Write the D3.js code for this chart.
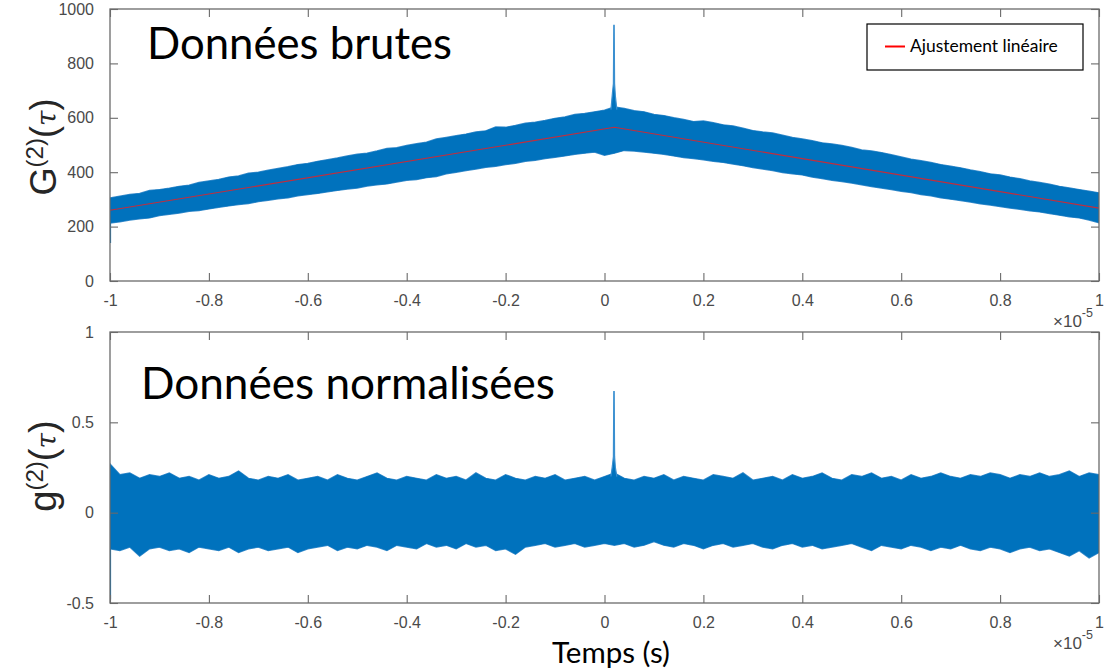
<!DOCTYPE html>
<html><head><meta charset="utf-8">
<script src="https://cdn.jsdelivr.net/npm/d3@7"></script>
<style>body{margin:0;background:#fff}</style>
</head><body>
<svg id="c" width="1107" height="670"></svg>
<script>
// ---- DATA (time in units of 1e-5 s) ----
const timeGrid = [-1,-0.98,-0.96,-0.94,-0.92,-0.9,-0.88,-0.86,-0.84,-0.82,-0.8,-0.78,-0.76,-0.74,-0.72,-0.7,-0.68,-0.66,-0.64,-0.62,-0.6,-0.58,-0.56,-0.54,-0.52,-0.5,-0.48,-0.46,-0.44,-0.42,-0.4,-0.38,-0.36,-0.34,-0.32,-0.3,-0.28,-0.26,-0.24,-0.22,-0.2,-0.18,-0.16,-0.14,-0.12,-0.1,-0.08,-0.06,-0.04,-0.02,0,0.02,0.04,0.06,0.08,0.1,0.12,0.14,0.16,0.18,0.2,0.22,0.24,0.26,0.28,0.3,0.32,0.34,0.36,0.38,0.4,0.42,0.44,0.46,0.48,0.5,0.52,0.54,0.56,0.58,0.6,0.62,0.64,0.66,0.68,0.7,0.72,0.74,0.76,0.78,0.8,0.82,0.84,0.86,0.88,0.9,0.92,0.94,0.96,0.98,1];

// Raw data G2 : upper / lower envelope of the noisy band
const rawUpper = [305,312,318,322,333,336,341,348,352,362,
  368,373,382,386,396,400,407,414,420,428,
  432,440,446,452,460,466,470,478,487,490,
  498,505,510,522,528,534,540,548,552,566,
  565,572,580,584,590,598,603,612,616,622,
  628,640,
  634,626,622,612,608,600,594,586,
  588,582,574,570,562,553,548,544,536,528,
  522,516,508,504,498,491,482,478,472,464,
  456,448,442,436,428,422,416,408,402,394,
  390,382,376,368,362,356,348,342,336,330,324];
const rawLower = [213,218,224,229,232,241,245,250,256,259,
  265,271,276,281,285,292,297,302,306,313,
  318,322,328,333,338,342,349,354,357,364,
  370,373,380,384,394,400,406,412,418,422,
  428,433,440,444,450,455,460,466,470,474,
  462,470,
  480,478,474,470,466,460,454,450,
  446,440,436,430,424,417,412,406,399,394,
  390,382,377,370,366,360,354,347,342,336,
  330,325,318,313,306,301,296,290,284,279,
  274,268,264,258,254,248,242,236,232,224,214];
const fitTime = [-1, 0.02, 1];
const fitValue = [260, 565, 268];
const rawSpikeTime = [0.013,0.016,0.018,0.0188,0.0196,0.0204,0.022,0.025];
const rawSpikeValue = [630,690,726,940,940,726,680,630];
const rawStartTime = [-1,-1];
const rawStartValue = [140,260];

// Normalised data g2
const normUpper = [0.27,0.21,0.22,0.19,0.21,0.2,0.22,0.19,0.2,0.18,
  0.21,0.19,0.2,0.23,0.19,0.18,0.2,0.19,0.21,0.18,
  0.19,0.2,0.18,0.21,0.19,0.18,0.2,0.22,0.19,0.18,
  0.2,0.19,0.18,0.21,0.19,0.2,0.18,0.22,0.19,0.18,
  0.21,0.19,0.18,0.2,0.19,0.21,0.18,0.19,0.2,0.18,
  0.2,
  0.22,0.19,0.18,0.2,0.19,0.21,0.18,0.2,0.19,0.18,
  0.21,0.2,0.19,0.22,0.18,0.19,0.2,0.18,0.21,0.19,
  0.2,0.22,0.19,0.18,0.21,0.2,0.22,0.19,0.2,0.18,
  0.21,0.19,0.2,0.22,0.2,0.19,0.21,0.2,0.22,0.21,
  0.19,0.21,0.2,0.22,0.2,0.21,0.23,0.2,0.22,0.21];
const normLower = [-0.2,-0.21,-0.19,-0.24,-0.2,-0.19,-0.21,-0.2,-0.22,-0.19,
  -0.2,-0.21,-0.19,-0.22,-0.2,-0.19,-0.21,-0.2,-0.19,-0.22,
  -0.2,-0.19,-0.18,-0.21,-0.19,-0.2,-0.18,-0.19,-0.21,-0.18,
  -0.19,-0.2,-0.17,-0.19,-0.18,-0.2,-0.17,-0.19,-0.18,-0.21,
  -0.2,-0.23,-0.19,-0.18,-0.17,-0.19,-0.18,-0.17,-0.19,-0.18,
  -0.17,
  -0.18,-0.17,-0.19,-0.18,-0.16,-0.18,-0.19,-0.17,-0.18,-0.2,
  -0.18,-0.17,-0.19,-0.18,-0.17,-0.19,-0.2,-0.18,-0.17,-0.19,
  -0.18,-0.2,-0.19,-0.18,-0.17,-0.19,-0.21,-0.18,-0.19,-0.2,
  -0.18,-0.19,-0.21,-0.19,-0.2,-0.18,-0.2,-0.21,-0.19,-0.2,
  -0.22,-0.2,-0.19,-0.21,-0.2,-0.22,-0.24,-0.21,-0.25,-0.22];
const normSpikeTime = [0.013,0.016,0.018,0.0188,0.0196,0.0204,0.022,0.025];
const normSpikeValue = [0.2,0.26,0.31,0.67,0.67,0.31,0.25,0.2];
const normStartTime = [-1,-1];
const normStartValue = [-0.48,0];

const xTicks = [-1,-0.8,-0.6,-0.4,-0.2,0,0.2,0.4,0.6,0.8,1];
const xTickLabels = ["-1","-0.8","-0.6","-0.4","-0.2","0","0.2","0.4","0.6","0.8","1"];
const rawYTicks = [0,200,400,600,800,1000];
const rawYTickLabels = ["0","200","400","600","800","1000"];
const normYTicks = [-0.5,0,0.5,1];
const normYTickLabels = ["-0.5","0","0.5","1"];

// ---- DRAWING ----
const svg = d3.select("#c");
const BLUE = "#0072BD";
const AXIS = "#6a6a6a";
const TICKTXT = "#4a4a4a";
const x = d3.scaleLinear().domain([-1, 1]).range([110, 1099]);

function fitWidth(sel, target) {
  const n = sel.node();
  const fs = parseFloat(sel.attr("font-size"));
  const w = n.getComputedTextLength();
  sel.attr("font-size", (fs * target / w).toFixed(2));
}

function panel(opt) {
  const y = d3.scaleLinear().domain(opt.yDomain).range([opt.bottom, opt.top]);
  const g = svg.append("g");
  const clipId = "clip" + opt.id;
  svg.append("defs").append("clipPath").attr("id", clipId)
    .append("rect").attr("x", 110).attr("y", opt.top).attr("width", 989).attr("height", opt.bottom - opt.top);
  const data = g.append("g").attr("clip-path", `url(#${clipId})`);

  const idx = d3.range(timeGrid.length);
  const area = d3.area()
    .x(i => x(timeGrid[i])).y0(i => y(opt.lower[i])).y1(i => y(opt.upper[i]));
  data.append("path").attr("d", area(idx))
    .attr("fill", BLUE).attr("stroke", "#3a8ccb").attr("stroke-width", 1.4).attr("stroke-linejoin", "miter");
  data.append("path").attr("d", area(idx)).attr("fill", BLUE).attr("stroke", "none");

  const sidx = d3.range(opt.spikeT.length);
  data.append("path")
    .attr("d", d3.line().x(i => x(opt.spikeT[i])).y(i => y(opt.spikeV[i]))(sidx))
    .attr("fill", BLUE).attr("stroke", "#3a8fd0").attr("stroke-width", 1.2);

  const st = d3.range(opt.startT.length);
  data.append("path")
    .attr("d", d3.line().x(i => x(opt.startT[i]) + 0.5).y(i => y(opt.startV[i]))(st))
    .attr("stroke", BLUE).attr("stroke-width", 1.2).attr("fill", "none");

  if (opt.fitT) {
    const fi = d3.range(opt.fitT.length);
    data.append("path")
      .attr("d", d3.line().x(i => x(opt.fitT[i])).y(i => y(opt.fitV[i]))(fi))
      .attr("stroke", "#d8262e").attr("stroke-width", 1.1).attr("fill", "none").attr("opacity", 0.9);
  }

  // axes with inward ticks on all four sides
  const ax = g.append("g").attr("font-family", "'Liberation Sans', Arial, sans-serif");
  ax.append("g").attr("transform", `translate(0,${opt.bottom})`)
    .call(d3.axisBottom(x).tickValues(xTicks).tickSize(-8).tickPadding(14)
      .tickFormat((d, i) => xTickLabels[i]));
  ax.append("g").attr("transform", `translate(0,${opt.top})`)
    .call(d3.axisTop(x).tickValues(xTicks).tickSize(-8).tickFormat(""));
  ax.append("g").attr("transform", `translate(110,0)`)
    .call(d3.axisLeft(y).tickValues(opt.yTicks).tickSize(-8).tickPadding(16)
      .tickFormat((d, i) => opt.yTickLabels[i]));
  ax.append("g").attr("transform", `translate(1099,0)`)
    .call(d3.axisRight(y).tickValues(opt.yTicks).tickSize(-8).tickFormat(""));
  ax.selectAll(".domain").remove();
  ax.selectAll(".tick line").attr("stroke", AXIS).attr("stroke-width", 1.1);
  ax.selectAll(".tick text").attr("fill", TICKTXT).attr("font-size", 16);
  ax.append("rect").attr("x", 110).attr("y", opt.top).attr("width", 989).attr("height", opt.bottom - opt.top)
    .attr("fill", "none").attr("stroke", AXIS).attr("stroke-width", 1.3);

  // exponent
  const ex = ax.append("text").attr("x", 1053).attr("y", opt.bottom + 46)
    .attr("fill", TICKTXT).attr("font-size", 17);
  ex.append("tspan").text("×10");
  ex.append("tspan").attr("dy", -10).attr("font-size", 12.5).text("-5");

  // y label
  const yl = g.append("text")
    .attr("transform", `translate(56,${opt.labelY}) rotate(-90)`)
    .attr("text-anchor", "middle")
    .attr("font-family", "'Liberation Sans', Arial, sans-serif")
    .attr("font-size", 34).attr("fill", "#262626");
  yl.append("tspan").text(opt.letter);
  yl.append("tspan").attr("dy", -13).attr("font-size", 24).text("(2)");
  yl.append("tspan").attr("dy", 13).text("(");
  yl.append("tspan").attr("font-family", "'DejaVu Serif', serif").attr("font-style", "italic").attr("font-size", 28).text("τ");
  yl.append("tspan").text(")");
  fitWidth(yl, opt.labelW);

  // title inside
  const t = g.append("text").attr("x", opt.titleX).attr("y", opt.titleY)
    .attr("font-family", "Lato, 'Open Sans', sans-serif").attr("font-size", 40).attr("fill", "#000")
    .text(opt.title);
  fitWidth(t, opt.titleW);
  return {g, y};
}

panel({id: 1, top: 9, bottom: 281, yDomain: [0, 1000],
  upper: rawUpper, lower: rawLower, spikeT: rawSpikeTime, spikeV: rawSpikeValue,
  startT: rawStartTime, startV: rawStartValue, fitT: fitTime, fitV: fitValue,
  yTicks: rawYTicks, yTickLabels: rawYTickLabels,
  letter: "G", labelY: 147, labelW: 100,
  title: "Données brutes", titleX: 147, titleY: 59, titleW: 305});

panel({id: 2, top: 332, bottom: 603, yDomain: [-0.5, 1],
  upper: normUpper, lower: normLower, spikeT: normSpikeTime, spikeV: normSpikeValue,
  startT: normStartTime, startV: normStartValue,
  yTicks: normYTicks, yTickLabels: normYTickLabels,
  letter: "g", labelY: 466, labelW: 97,
  title: "Données normalisées", titleX: 141, titleY: 399, titleW: 414});

// legend
const lg = svg.append("g");
lg.append("rect").attr("x", 867).attr("y", 24).attr("width", 216).attr("height", 46)
  .attr("fill", "#fff").attr("stroke", "#000").attr("stroke-width", 1.2);
lg.append("line").attr("x1", 885).attr("x2", 905).attr("y1", 46.5).attr("y2", 46.5)
  .attr("stroke", "#ff0000").attr("stroke-width", 2);
const lt = lg.append("text").attr("x", 910).attr("y", 51.5)
  .attr("font-family", "Lato, 'Open Sans', sans-serif").attr("font-size", 14).attr("fill", "#000")
  .text("Ajustement linéaire");
fitWidth(lt, 148);

// x label
const xl = svg.append("text").attr("x", 552).attr("y", 663)
  .attr("font-family", "Lato, 'Open Sans', sans-serif").attr("font-size", 24).attr("fill", "#000")
  .text("Temps (s)");
fitWidth(xl, 118);
</script>
</body></html>
